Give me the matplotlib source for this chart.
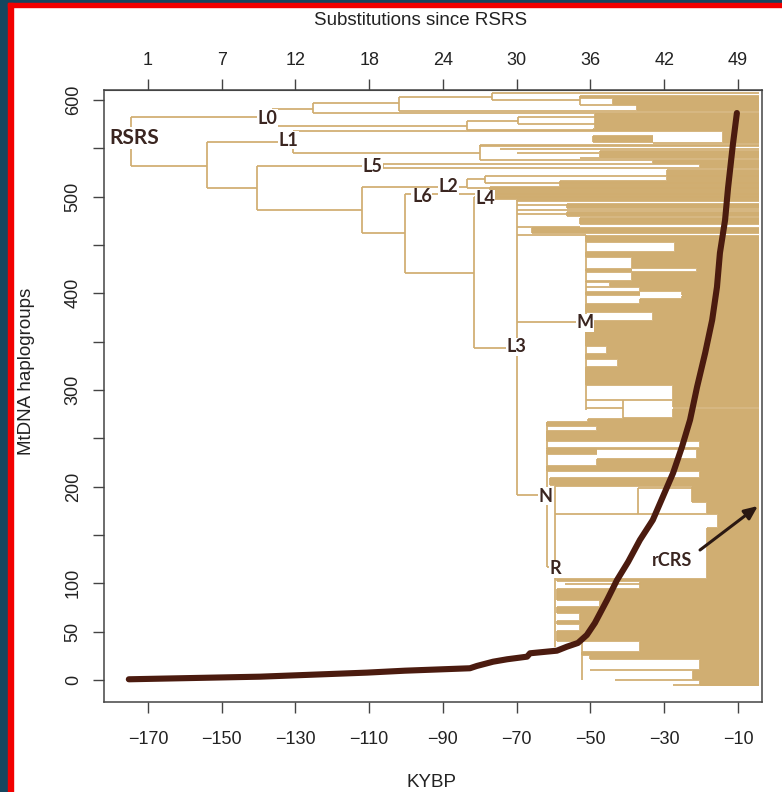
import matplotlib
matplotlib.use("Agg")
import matplotlib.pyplot as plt
from matplotlib.collections import LineCollection
from matplotlib.patches import Rectangle

# ---------------------------------------------------------------
# Cumulative number of mtDNA haplogroups through time (KYBP)
# ---------------------------------------------------------------
curve_kybp = [-175.2, -139.6, -110.6, -100.3, -82.7, -80.8, -76.4, -72.6, -67.2,
              -66.4, -59.1, -56.4, -53.4, -51.0, -48.8, -45.5, -42.8, -39.8,
              -36.6, -33.1, -30.4, -27.6, -25.2, -23.0, -21.1, -18.9, -17.0,
              -15.7, -14.9, -13.5, -12.7, -11.4, -10.3]
curve_count = [0.7, 3.4, 7.6, 9.6, 12.1, 14.5, 18.9, 21.4, 24.1,
               27.6, 30.3, 34.4, 38.3, 46.5, 59.0, 82.8, 103.4, 122.1,
               144.8, 165.5, 189.3, 214.1, 241.0, 269.0, 303.1, 338.3, 372.4,
               406.5, 441.7, 475.8, 508.9, 553.4, 586.5]

x_ticks = [-170, -150, -130, -110, -90, -70, -50, -30, -10]
subst_labels = ["1", "7", "12", "18", "24", "30", "36", "42", "49"]
y_ticks = [0, 50, 100, 150, 200, 250, 300, 350, 400, 450, 500, 550, 600]
y_tick_labels = ["0", "50", "100", "", "200", "", "300", "", "400", "", "500", "", "600"]

# ---------------------------------------------------------------
# Haplogroup tree: ages in KYBP, rows = tip order (1 = bottom)
# ---------------------------------------------------------------
TIP_AGE = -4.2
T = TIP_AGE

# vertical node connectors: (age, row_low, row_high)
tree_links = [
    (-174.6, 520, 569), (-136.4, 560, 577), (-125.3, 573, 583), (-101.9, 575, 589),
    (-76.7, 586, 593), (-52.8, 581, 590), (-83.5, 556, 565), (-69.7, 562, 569),
    (-154.0, 498, 544), (-130.7, 533, 555), (-80.0, 526, 541), (-140.4, 476, 520),
    (-106.3, 518, 522), (-112.0, 453, 499), (-83.5, 498, 507), (-78.6, 503, 510),
    (-100.3, 413, 492), (-81.6, 338, 489), (-69.9, 191, 486), (-51.2, 276, 451),
    (-41.2, 268, 286), (-61.8, 119, 264), (-59.6, 39, 200), (-37.1, 172, 198),
    (-52.3, 6, 46),
]

# internal branches: (row, age_from, age_to)
tree_stems = [
    (569, -174.6, -136.4), (577, -136.4, -125.3), (583, -125.3, -101.9),
    (589, -101.9, -76.7), (586, -76.7, -52.8), (581, -52.8, -37.4),
    (560, -136.4, -83.5), (565, -83.5, -69.7), (569, -69.7, -48.8),
    (562, -69.7, -48.8), (556, -83.5, -49.3), (520, -174.6, -154.0),
    (544, -154.0, -130.7), (555, -130.7, -33.1), (533, -130.7, -80.0),
    (498, -154.0, -140.4), (520, -140.4, -106.3), (476, -140.4, -112.0),
    (499, -112.0, -83.5), (507, -83.5, -78.6), (453, -112.0, -100.3),
    (413, -100.3, -81.6), (338, -81.6, -69.9), (364, -69.9, -51.2),
    (191, -69.9, -61.8), (119, -61.8, -59.6),
]

# terminal branches grouped by clade: (row_top, row_bottom, age_from, age_to)
tip_bundles = [
    # L0
    (593, 593, -76.7, T), (590, 588, -52.8, T), (587, 582, -43.9, T),
    (581, 576, -37.4, T), (575, 575, -101.9, T), (573, 573, -125.3, T),
    (572, 558, -48.8, T), (557, 556, -49.3, T),
    # L1
    (555, 555, -33.1, T), (554, 544, -14.1, T), (550, 544, -49.3, -33.1),
    (543, 543, -33.1, T), (541, 540, -80.0, T), (537, 537, -74.5, T),
    (535, 534, -47.4, T), (533, 533, -69.9, T), (532, 529, -47.4, T),
    (528, 528, -52.8, T), (526, 526, -80.0, T), (525, 523, -33.1, T),
    # L5
    (522, 522, -106.3, T), (521, 519, -20.3, T), (518, 518, -106.3, T),
    (516, 510, -29.3, T),
    # L2, L6, L4
    (510, 510, -78.6, T), (509, 506, -29.3, T), (505, 500, -58.3, T),
    (503, 503, -78.6, T), (499, 494, -77.3, T), (498, 498, -83.5, T),
    (493, 487, -77.3, T), (492, 492, -100.3, T), (489, 489, -81.6, T),
    # L3
    (486, 485, -69.9, T), (482, 478, -56.4, T), (481, 481, -69.9, T),
    (476, 476, -69.9, T), (474, 470, -56.4, T), (472, 472, -69.9, -56.4),
    (468, 462, -52.8, T), (459, 459, -69.9, -52.8), (458, 453, -65.9, T),
    (451, 451, -69.9, -51.2),
    # M
    (450, 444, -51.2, T), (443, 435, -27.1, T), (434, 429, -51.2, T),
    (428, 418, -38.7, T), (417, 415, -51.2, -38.7), (417, 415, -21.1, T),
    (414, 414, -51.2, T), (413, 406, -38.7, T), (405, 404, -51.2, T),
    (403, 400, -44.7, T), (399, 399, -51.2, T), (398, 395, -36.6, T),
    (394, 391, -51.2, -36.6), (394, 391, -25.2, T), (390, 388, -25.2, T),
    (387, 383, -36.6, T), (382, 374, -51.2, T), (373, 366, -33.1, T),
    (365, 340, -51.2, T), (339, 333, -45.5, T), (332, 327, -51.2, T),
    (326, 320, -42.5, T), (319, 301, -51.2, T), (300, 287, -27.6, T),
    (286, 286, -51.2, T), (285, 279, -27.6, T), (278, 278, -51.2, -41.2),
    (277, 269, -27.6, T), (268, 268, -41.2, T), (267, 265, -50.7, T),
    # N
    (264, 260, -61.8, T), (259, 256, -48.2, T), (255, 245, -61.8, T),
    (244, 239, -20.3, T), (238, 237, -61.8, T), (236, 232, -61.8, -48.2),
    (236, 228, -21.1, T), (227, 221, -48.2, T), (220, 215, -61.8, T),
    (214, 209, -20.3, T), (208, 201, -61.0, T),
    # R
    (200, 200, -59.6, T), (199, 184, -22.5, T), (198, 198, -37.1, -22.5),
    (183, 173, -18.4, T), (172, 172, -59.6, T), (171, 159, -15.4, T),
    (158, 108, -18.4, T), (107, 107, -59.6, T), (106, 105, -59.1, T),
    (104, 98, -36.6, T), (102, 102, -56.9, -36.6), (97, 86, -59.1, T),
    (85, 80, -47.4, T), (79, 73, -59.1, T), (72, 66, -52.8, T),
    (65, 62, -59.1, T), (61, 56, -52.8, T), (55, 45, -59.1, T),
    (44, 35, -36.6, T), (34, 31, -52.3, T), (30, 27, -50.1, T),
    (26, 17, -20.3, T), (16, 16, -50.1, T), (15, 7, -22.2, T),
    (6, 6, -43.4, T), (5, 1, -20.3, T), (1, 1, -27.6, T),
]

# clade names: (label, age, row)
clade_labels = [
    ("L0", -137.5, 568), ("L1", -132.0, 546), ("L5", -109.0, 519),
    ("L6", -95.7, 489), ("L2", -88.6, 500), ("L4", -78.6, 487),
    ("L3", -70.2, 339), ("M", -51.5, 363), ("N", -62.3, 190), ("R", -59.6, 117),
]
root_label = ("RSRS", -173.8, 548)
rcrs_label = ("rCRS", -28.0, 125)
rcrs_arrow_from = (-20.3, 136)
rcrs_arrow_to = (-4.6, 180)

# ---------------------------------------------------------------
TREE_COL = "#D0AD70"
CURVE_COL = "#4B1B0F"
LABEL_COL = "#3A2520"
AXIS_COL = "#444444"
TEXT_COL = "#222222"
MINUS = "\u2212"

W, H = 782, 792
fig = plt.figure(figsize=(W / 100, H / 100), dpi=100, facecolor="white")

# page frame
fig.patches.append(Rectangle((0, 0), 8 / W, 1, transform=fig.transFigure,
                             color="#16465F", zorder=-5))
fig.patches.append(Rectangle((0, 1 - 3 / H), 1, 3 / H, transform=fig.transFigure,
                             color="#16465F", zorder=-5))
fig.patches.append(Rectangle((8 / W, 0), 4.5 / W, 1 - 3 / H, transform=fig.transFigure,
                             color="#F20000", zorder=-4))
fig.patches.append(Rectangle((8 / W, 1 - 7 / H), 1, 4 / H, transform=fig.transFigure,
                             color="#F20000", zorder=-4))

rect = [104 / W, 1 - 702 / H, (762 - 104) / W, (702 - 90) / H]
XLIM = (-181.93, -3.49)

# --- tree layer ---
axt = fig.add_axes(rect)
axt.set_xlim(*XLIM)
axt.set_ylim(-16, 596)
axt.axis("off")

segs = []
for age, r0, r1 in tree_links:
    segs.append([(age, r0), (age, r1)])
for row, a0, a1 in tree_stems:
    segs.append([(a0, row), (a1, row)])
for rtop, rbot, a0, a1 in tip_bundles:
    for r in range(rbot, rtop + 1):
        segs.append([(a0, r), (a1, r)])
    if rtop > rbot:
        segs.append([(a0, rbot), (a0, rtop)])
axt.add_collection(LineCollection(segs, colors=TREE_COL, linewidths=1.25,
                                  capstyle="butt"))

bbox = dict(facecolor="white", edgecolor="none", pad=0.4)
for name, age, row in clade_labels:
    axt.text(age, row, name, ha="center", va="center", fontsize=13,
             fontweight="bold", family="Lato", color=LABEL_COL, bbox=bbox, zorder=5)
axt.text(root_label[1], root_label[2], root_label[0], ha="center", va="center",
         fontsize=15, fontweight="bold", family="Lato", color=LABEL_COL,
         bbox=bbox, zorder=5)

# --- curve + axes layer ---
ax = fig.add_axes(rect)
ax.patch.set_alpha(0)
ax.set_xlim(*XLIM)
ax.set_ylim(-22.8, 610.3)
ax.plot(curve_kybp, curve_count, color=CURVE_COL, lw=4.4,
        solid_capstyle="round", solid_joinstyle="round", zorder=4)

ax.annotate("", xy=rcrs_arrow_to, xytext=rcrs_arrow_from,
            xycoords=axt.transData, textcoords=axt.transData,
            arrowprops=dict(arrowstyle="-|>,head_length=0.8,head_width=0.35",
                            color="#2A1812", lw=2.2, shrinkA=0, shrinkB=0))
ax.text(rcrs_label[1], rcrs_label[2], rcrs_label[0], transform=axt.transData,
        ha="center", va="center", fontsize=13, fontweight="bold", family="Lato",
        color=LABEL_COL, zorder=6)

for s in ax.spines.values():
    s.set_color(AXIS_COL)
    s.set_linewidth(1.1)

font_ax = dict(family="Liberation Sans", color=TEXT_COL)
ax.set_xticks(x_ticks)
ax.set_xticklabels([str(v).replace("-", MINUS) for v in x_ticks], fontsize=13, **font_ax)
ax.set_yticks(y_ticks)
ax.set_yticklabels(y_tick_labels, fontsize=13, rotation=90, va="center", **font_ax)
ax.tick_params(axis="x", direction="out", length=8, width=1.0, color=AXIS_COL, pad=13)
ax.tick_params(axis="y", direction="out", length=8, width=1.0, color=AXIS_COL, pad=8)

top = ax.secondary_xaxis("top")
top.set_xticks(x_ticks)
top.set_xticklabels(subst_labels, fontsize=13, **font_ax)
top.tick_params(direction="out", length=8, width=1.0, color=AXIS_COL, pad=7)
top.spines["top"].set_color(AXIS_COL)

fig.text(431 / W, 1 - 787 / H, "KYBP", ha="center", va="baseline", fontsize=13.5, **font_ax)
fig.text(421 / W, 1 - 25 / H, "Substitutions since RSRS", ha="center", va="baseline",
         fontsize=13.5, **font_ax)
fig.text(27 / W, 1 - 371 / H, "MtDNA haplogroups", ha="center", va="center",
         rotation=90, fontsize=13.5, **font_ax)

fig.savefig("out.png", dpi=100, facecolor="white")
